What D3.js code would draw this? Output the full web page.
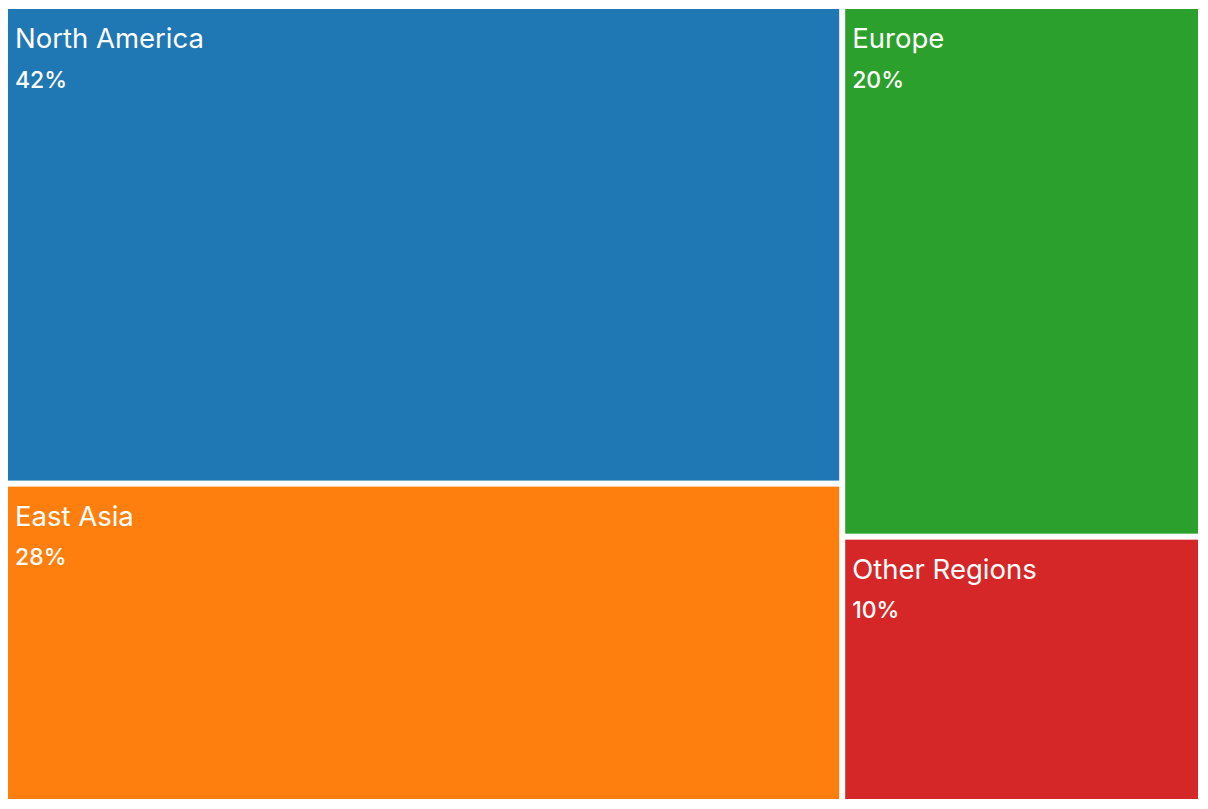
<!DOCTYPE html>
<html>
<head>
<meta charset="utf-8">
<script src="https://cdn.jsdelivr.net/npm/d3@7"></script>
<style>
  html, body { margin: 0; padding: 0; background: #fff; }
  svg { display: block; }
  text { font-family: Inter, "Noto Sans", sans-serif; fill: #fff; }
</style>
</head>
<body>
<svg id="chart" width="1208" height="809"></svg>
<script>
const regions = ["North America", "East Asia", "Europe", "Other Regions"];
const shares = [42, 28, 20, 10];
const colors = ["#1f77b4", "#ff7f0e", "#2ca02c", "#d62728"];

const svg = d3.select("#chart");
const W = 1190, H = 790;
const g = svg.append("g").attr("transform", "translate(8,9)");

const root = d3.hierarchy({
  children: regions.map((name, i) => ({ name, value: shares[i], color: colors[i] }))
}).sum(d => d.value || 0).sort((a, b) => b.value - a.value);

d3.treemap().size([W, H]).paddingInner(6).tile(d3.treemapSquarify)(root);

const cell = g.selectAll("g.cell").data(root.leaves()).join("g")
  .attr("class", "cell")
  .attr("transform", d => `translate(${d.x0},${d.y0})`);

cell.append("rect")
  .attr("width", d => d.x1 - d.x0)
  .attr("height", d => d.y1 - d.y0)
  .attr("fill", d => d.data.color);

cell.append("text")
  .attr("x", 7).attr("y", 39)
  .style("font-size", "27.5px")
  .style("font-weight", 400)
  .text(d => d.data.name);

cell.append("text")
  .attr("x", 7).attr("y", 78.5)
  .style("font-size", "23px")
  .style("font-weight", 500)
  .text(d => d.data.value + "%");
</script>
</body>
</html>
